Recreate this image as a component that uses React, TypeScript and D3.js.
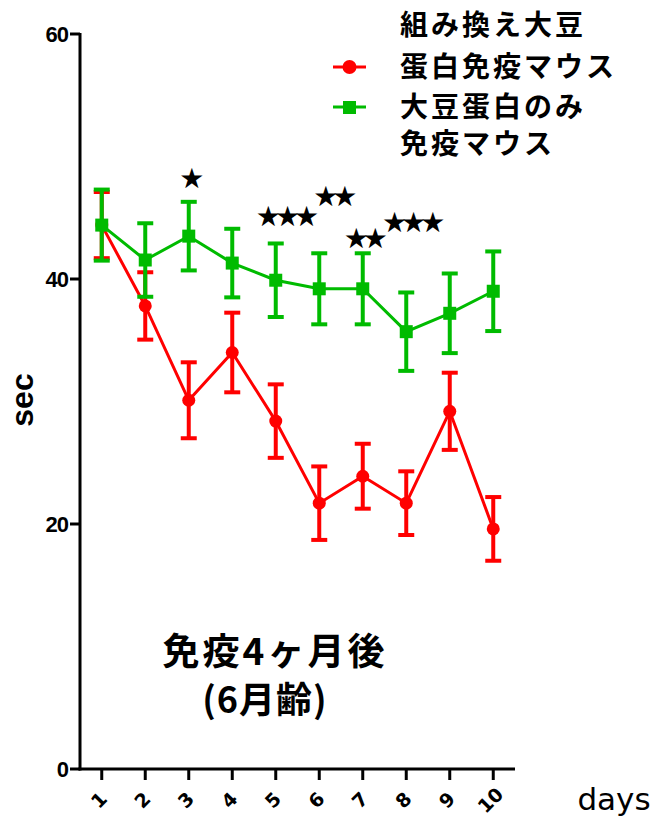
import * as d3 from 'd3';

// data (seconds per day)
const days = [1, 2, 3, 4, 5, 6, 7, 8, 9, 10];
const recombMean = [44.4, 37.8, 30.1, 34.0, 28.4, 21.7, 23.9, 21.7, 29.2, 19.6];
const recombErr = [2.7, 2.75, 3.1, 3.25, 3.0, 3.0, 2.65, 2.6, 3.15, 2.6];
const soyMean = [44.4, 41.55, 43.5, 41.3, 39.9, 39.2, 39.2, 35.7, 37.2, 39.0];
const soyErr = [2.9, 3.0, 2.8, 2.8, 3.0, 2.9, 2.9, 3.2, 3.25, 3.25];
const yTicks = [0, 20, 40, 60];

// significance stars
const starDay = [3, 5.2, 6.3, 7, 8.1];
const starLevel = [48.2, 45.1, 46.7, 43.3, 44.6];
const starLabel = ['★', '★★★', '★★', '★★', '★★★'];

const legendLines = ['組み換え大豆', '蛋白免疫マウス', '大豆蛋白のみ', '免疫マウス'];
const titleLines = ['免疫4ヶ月後', '(6月齢)'];

const RED = '#ff0000';
const GREEN = '#00bb00';
const JP = '"Noto Sans CJK JP", "Noto Sans", sans-serif';

export default function App() {
  const width = 652;
  const height = 817;

  const x = d3.scaleLinear().domain([0.5, 10.5]).range([80, 515]);
  const y = d3.scaleLinear().domain([0, 60]).range([769, 34]);

  const line = d3
    .line<number>()
    .x((_, i) => x(days[i]))
    .y(d => y(d));

  const series = [
    { mean: recombMean, err: recombErr, color: RED, shape: 'circle' },
    { mean: soyMean, err: soyErr, color: GREEN, shape: 'square' },
  ];

  const cap = 8;

  return (
    <div style={{ position: 'absolute', left: 0, top: 0 }}>
      <svg width={width} height={height} style={{ display: 'block', background: '#fff' }}>
        {/* series */}
        {series.map((s, si) => (
          <g key={si}>
            <path d={line(s.mean) ?? ''} fill="none" stroke={s.color} strokeWidth={3} />
            {s.mean.map((m, i) => {
              const cx = x(days[i]);
              const top = y(m + s.err[i]);
              const bot = y(m - s.err[i]);
              return (
                <g key={i} stroke={s.color} strokeWidth={4}>
                  <line x1={cx} x2={cx} y1={top} y2={bot} />
                  <line x1={cx - cap} x2={cx + cap} y1={top} y2={top} />
                  <line x1={cx - cap} x2={cx + cap} y1={bot} y2={bot} />
                </g>
              );
            })}
            {s.mean.map((m, i) =>
              s.shape === 'circle' ? (
                <circle key={i} cx={x(days[i])} cy={y(m)} r={6.5} fill={s.color} />
              ) : (
                <rect key={i} x={x(days[i]) - 6.5} y={y(m) - 6.5} width={13} height={13} fill={s.color} />
              )
            )}
          </g>
        ))}

        {/* stars */}
        {starLabel.map((t, i) => (
          <text
            key={i}
            x={x(starDay[i])}
            y={y(starLevel[i])}
            textAnchor="middle"
            dominantBaseline="central"
            fontFamily="DejaVu Sans"
            fontSize={28}
            letterSpacing={-6}
            fill="#000"
          >
            {t}
          </text>
        ))}

        {/* y axis */}
        <line x1={80} x2={80} y1={y(60) - 1} y2={y(0) + 1.5} stroke="#000" strokeWidth={3} />
        {yTicks.map(t => (
          <g key={t}>
            <line x1={70} x2={80} y1={y(t)} y2={y(t)} stroke="#000" strokeWidth={3} />
            <text
              x={68}
              y={y(t)}
              textAnchor="end"
              dominantBaseline="central"
              fontFamily="Liberation Sans, Arial, sans-serif"
              fontWeight="bold"
              fontSize={22}
              letterSpacing={-1}
            >
              {t}
            </text>
          </g>
        ))}
        <text
          transform="translate(22,400) rotate(-90)"
          textAnchor="middle"
          dominantBaseline="central"
          fontFamily="Liberation Sans, Arial, sans-serif"
          fontWeight="bold"
          fontSize={32}
        >
          sec
        </text>

        {/* x axis */}
        <line x1={78.5} x2={515} y1={769} y2={769} stroke="#000" strokeWidth={3} />
        {days.map(d => (
          <g key={d}>
            <line x1={x(d)} x2={x(d)} y1={769} y2={780} stroke="#000" strokeWidth={3} />
            <text
              transform={`translate(${x(d) - 3},800) rotate(-45)`}
              textAnchor="middle"
              dominantBaseline="central"
              fontFamily="DejaVu Sans, sans-serif"
              fontWeight="bold"
              fontSize={19}
            >
              {d}
            </text>
          </g>
        ))}
        <text x={614} y={810} textAnchor="middle" fontFamily="DejaVu Sans, sans-serif" fontSize={31}>
          days
        </text>

        {/* legend */}
        <line x1={333} x2={366} y1={67} y2={67} stroke={RED} strokeWidth={3} />
        <circle cx={349.5} cy={67} r={7} fill={RED} />
        <line x1={333} x2={366} y1={107} y2={107} stroke={GREEN} strokeWidth={3} />
        <rect x={343} y={101} width={13} height={13} fill={GREEN} />
        {legendLines.map((t, i) => (
          <text
            key={i}
            x={400}
            y={[23, 65, 105, 142][i]}
            dominantBaseline="central"
            fontFamily={JP}
            fontWeight="bold"
            fontSize={28}
            letterSpacing={3}
          >
            {t}
          </text>
        ))}

        {/* annotation */}
        {titleLines.map((t, i) => (
          <text
            key={i}
            x={i === 0 ? 275 : 265}
            y={i === 0 ? 649 : 697}
            textAnchor="middle"
            dominantBaseline="central"
            fontFamily={JP}
            fontWeight="bold"
            fontSize={i === 0 ? 37 : 36}
            letterSpacing={i === 0 ? 3 : 1}
          >
            {t}
          </text>
        ))}
      </svg>
    </div>
  );
}
